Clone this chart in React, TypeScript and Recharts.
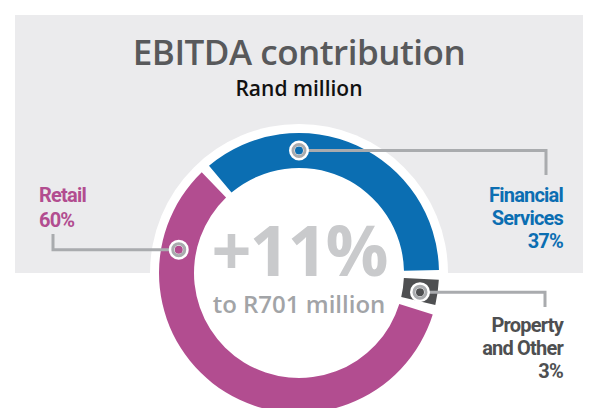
import { PieChart, Pie, Cell } from 'recharts';

const segmentNames = ['Financial Services', 'Property and Other', 'Retail'];
const segmentShares = [37, 3, 60];
const labelLines = [['Financial', 'Services'], ['Property', 'and Other'], ['Retail']];
const headline = 'EBITDA contribution';
const unitLabel = 'Rand million';
const centreGrowth = '+11%';
const centreNote = 'to R701 million';

const COLORS: Record<string, string> = {
  'Financial Services': '#0b6eb2',
  'Property and Other': '#4e4f51',
  Retail: '#b24d90',
};

const LINE = '#a9abae';
const BG = '#ebebed';
const CX = 299;
const CY = 273;

// where each call-out sits relative to the ring
const callouts: Record<string, { angle: number; elbowDx: number; endDy: number; textX: number; firstBase: number; step: number; anchor: 'start' | 'end' }> = {
  'Financial Services': { angle: 90, elbowDx: 247, endDy: -98, textX: 563, firstBase: 202, step: 23, anchor: 'end' },
  'Property and Other': { angle: -9, elbowDx: 246, endDy: 34, textX: 563, firstBase: 332, step: 23, anchor: 'end' },
  Retail: { angle: 169, elbowDx: -246, endDy: -39, textX: 39, firstBase: 202, step: 25, anchor: 'start' },
};

const data = segmentNames.map((name, i) => ({
  name,
  value: segmentShares[i],
  lines: labelLines[i],
}));

const RAD = Math.PI / 180;

function renderCallout(props: any) {
  const { cx, cy, innerRadius, outerRadius, payload, name } = props;
  const key = payload?.name ?? name;
  const c = callouts[key];
  if (!c) return null;
  const r = (innerRadius + outerRadius) / 2;
  const mx = cx + r * Math.cos(c.angle * RAD);
  const my = cy - r * Math.sin(c.angle * RAD);
  const ex = cx + c.elbowDx;
  const ey = cy + c.endDy;
  const dir = ex > mx ? 1 : -1;
  const lines: string[] = [...payload.lines, `${payload.value}%`];
  const color = COLORS[key];
  return (
    <g key={key}>
      <polyline
        points={`${mx + dir * 6},${my} ${ex},${my} ${ex},${ey}`}
        fill="none"
        stroke={LINE}
        strokeWidth={3}
      />
      <circle cx={mx} cy={my} r={7} fill="none" stroke="#fff" strokeWidth={6} />
      <circle cx={mx} cy={my} r={6} fill="none" stroke={LINE} strokeWidth={3} />
      {lines.map((t, i) => (
        <text
          key={t}
          x={c.textX}
          y={c.firstBase + i * c.step}
          textAnchor={c.anchor}
          fill={color}
          fontSize={20}
          fontWeight={700}
          letterSpacing={-0.8}
          fontFamily="Roboto, 'Noto Sans', sans-serif"
        >
          {t}
        </text>
      ))}
    </g>
  );
}

export default function App() {
  return (
    <div style={{ position: 'absolute', left: 0, top: 0, width: 594, height: 408, background: '#fff' }}>
      <PieChart width={594} height={408} margin={{ top: 0, right: 0, bottom: 0, left: 0 }}>
        <rect x={15} y={15} width={568} height={258} fill={BG} />
        <circle cx={CX} cy={CY} r={149} fill="#fff" />
        <text
          x={299}
          y={65}
          textAnchor="middle"
          fill="#58595b"
          fontSize={35}
          fontWeight={600}
          fontFamily="'Open Sans', sans-serif"
          letterSpacing={-0.5}
        >
          {headline}
        </text>
        <text
          x={299}
          y={96}
          textAnchor="middle"
          fill="#111"
          fontSize={21}
          fontWeight={600}
          fontFamily="'Open Sans', sans-serif"
        >
          {unitLabel}
        </text>
        <Pie
          data={data}
          dataKey="value"
          nameKey="name"
          cx={CX}
          cy={CY}
          innerRadius={105}
          outerRadius={140}
          startAngle={130}
          endAngle={-230}
          paddingAngle={4}
          stroke="none"
          label={renderCallout}
          labelLine={false}
          isAnimationActive={false}
        >
          {data.map((d) => (
            <Cell key={d.name} fill={COLORS[d.name]} />
          ))}
        </Pie>
        <text
          x={CX}
          y={276}
          textAnchor="middle"
          fill="#c9cacc"
          fontSize={70}
          fontWeight={700}
          fontFamily="'Open Sans', sans-serif"
          letterSpacing={-2}
        >
          {centreGrowth}
        </text>
        <text
          x={CX}
          y={313}
          textAnchor="middle"
          fill="#a2a4a7"
          fontSize={24}
          fontWeight={600}
          fontFamily="'Open Sans', sans-serif"
        >
          {centreNote}
        </text>
      </PieChart>
    </div>
  );
}
